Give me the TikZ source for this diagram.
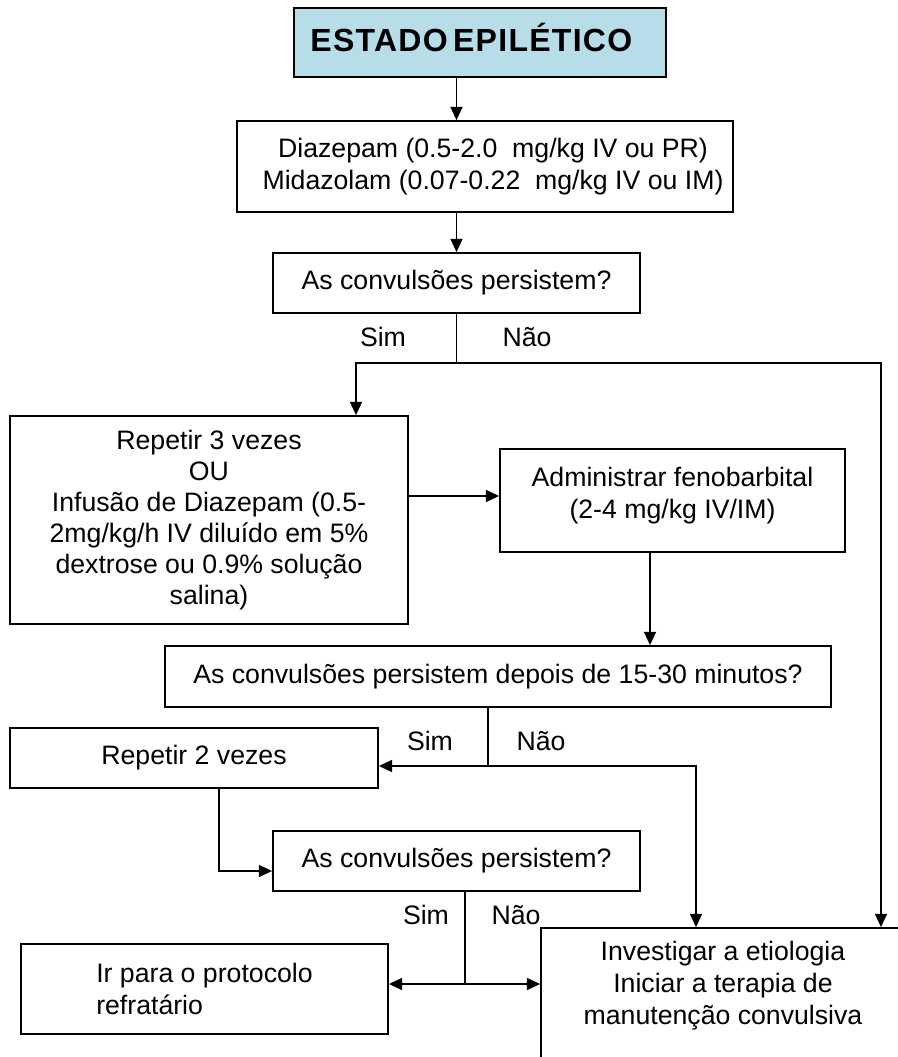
\documentclass[tikz,border=0pt]{standalone}
\usepackage{fontspec}
\setmainfont{Liberation Sans}
\usetikzlibrary{arrows.meta}
\definecolor{titleblue}{RGB}{183,221,232}

\begin{document}
\begin{tikzpicture}[x=0.75pt, y=0.75pt,
    box/.style={draw=black, line width=1.3pt, align=center, inner sep=0pt},
    arr/.style={line width=1.3pt, -{Triangle[length=10pt,width=9pt]}},
    ln/.style={line width=1.3pt},
    lbl/.style={inner sep=0pt},
    every node/.style={font=\fontsize{20}{24}\selectfont}]
      \useasboundingbox (0,0) rectangle (898,-1057);
      \node [box, fill=titleblue, minimum width=279pt, minimum height=51.75pt, font=\fontsize{24}{28}\bfseries\addfontfeature{LetterSpace=4}] (title) at (480,-42.5) {\raisebox{4pt}[\height][\depth]{ESTADO\hspace{4pt}EPILÉTICO}\hspace{13pt}};
      \node [box, minimum width=372pt, minimum height=68.25pt] (diaz) at (485,-166.5) {\hspace{12pt}Diazepam (0.5-2.0 \ mg/kg IV ou PR)\\\hspace{12pt}Midazolam (0.07-0.22 \ mg/kg IV ou IM)};
      \node [box, minimum width=275.25pt, minimum height=45pt] (q1) at (456.5,-283) {As convulsões persistem?};
      \node [box, minimum width=298.5pt, minimum height=156pt, font=\fontsize{20}{23.25}\selectfont] (rep3) at (209,-520) {Repetir 3 vezes\\OU\\Infusão de Diazepam (0.5-\\2mg/kg/h IV diluído em 5\%\\dextrose ou 0.9\% solução\\salina)};
      \node [box, minimum width=258.75pt, minimum height=77.25pt] (feno) at (672.5,-500.5) {Administrar fenobarbital\\(2-4 mg/kg IV/IM)\\[-20pt]\strut};
      \node [box, minimum width=499.5pt, minimum height=45.75pt] (q2) at (498,-676.5) {As convulsões persistem depois de 15-30 minutos?};
      \node [box, minimum width=276pt, minimum height=45pt] (rep2) at (194,-758) {Repetir 2 vezes};
      \node [box, minimum width=275.25pt, minimum height=45pt] (q3) at (456.5,-861) {As convulsões persistem?};
      \node [box, align=left, minimum width=275.25pt, minimum height=67.5pt] (refr) at (204.5,-989) {Ir para o protocolo\\refratário};
      \node [box, minimum width=273pt, minimum height=112.5pt] (invest) at (723,-1003) {};
      \node [lbl, align=center] (investtxt) at (723,-986) {Investigar a etiologia\\Iniciar a terapia de\\manutenção convulsiva};
      \node [lbl] (sim1) at (383,-337) {Sim};
      \node [lbl] (nao1) at (527,-337) {Não};
      \node [lbl] (sim2) at (430,-741) {Sim};
      \node [lbl] (nao2) at (541,-741) {Não};
      \node [lbl] (sim3) at (426,-915) {Sim};
      \node [lbl] (nao3) at (516,-915) {Não};
      \coordinate (q1j) at (456.5,-363);
      \coordinate (q1l) at (356,-363);
      \coordinate (q1r) at (881,-363);
      \coordinate (fq) at (650,-552);
      \coordinate (q2j) at (488,-766);
      \coordinate (q2r) at (696,-766);
      \coordinate (r2b) at (219,-871);
      \coordinate (q3j) at (465,-984);
      \draw [arr] (title.south -| q1.north) -- (diaz.north -| q1.north);
      \draw [arr] (diaz.south -| q1.north) -- (q1.north);
      \draw [ln] (q1.south) -- (q1j);
      \draw [arr] (q1j) -- (q1l) -- (q1l |- rep3.north);
      \draw [arr] (q1j) -- (q1r) -- (q1r |- invest.north);
      \draw [arr] (rep3.east |- 0,-496) -- (feno.west |- 0,-496);
      \draw [arr] (fq) -- (fq |- q2.north);
      \draw [ln] (q2.south -| q2j) -- (q2j);
      \draw [arr] (q2j) -- (q2j -| rep2.east);
      \draw [arr] (q2j) -- (q2r) -- (q2r |- invest.north);
      \draw [arr] (rep2.south -| r2b) -- (r2b) -- (r2b -| q3.west);
      \draw [ln] (q3.south -| q3j) -- (q3j);
      \draw [arr] (q3j) -- (q3j -| refr.east);
      \draw [arr] (q3j) -- (q3j -| invest.west);
\end{tikzpicture}
\end{document}
